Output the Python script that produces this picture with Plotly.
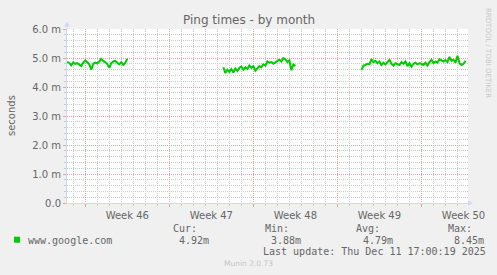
import pandas as pd
import plotly.graph_objects as go

# ---------------- data ----------------
title_text = "Ping times - by month"
y_label = "seconds"
series_name = "www.google.com"
line_color = "#00cc00"

sample_step = "4h"
seg1_start = "2025-11-08 12:00"
seg1_ms = [4.87, 4.83, 4.75, 4.85, 4.80, 4.82, 4.77, 4.72, 4.84, 4.91, 4.86,
           4.78, 4.60, 4.80, 4.84, 4.81, 4.88, 4.97, 4.90, 4.86, 4.80, 4.66,
           4.82, 4.88, 4.90, 4.84, 4.78, 4.86, 4.76, 4.83, 4.98]
seg2_start = "2025-11-21 12:00"
seg2_ms = [4.68, 4.48, 4.60, 4.52, 4.62, 4.50, 4.64, 4.56, 4.66, 4.70, 4.60,
           4.68, 4.62, 4.74, 4.66, 4.72, 4.56, 4.64, 4.72, 4.68, 4.78, 4.74,
           4.88, 4.84, 4.86, 4.80, 4.86, 4.90, 4.94, 4.88, 5.00, 4.96, 4.86,
           4.92, 4.58, 4.78, 4.72]
seg3_start = "2025-12-03 00:00"
seg3_ms = [4.58, 4.74, 4.76, 4.80, 4.78, 4.96, 4.86, 4.90, 4.82, 4.88, 4.76,
           4.84, 4.78, 4.86, 4.94, 4.80, 4.74, 4.82, 4.78, 4.76, 4.86, 4.80,
           4.88, 4.72, 4.82, 4.70, 4.80, 4.84, 4.78, 4.82, 4.80, 4.76, 4.84,
           4.74, 4.86, 4.94, 4.82, 4.88, 4.84, 4.96, 4.92, 4.88, 4.93, 4.86,
           5.04, 4.90, 4.94, 4.84, 5.08, 4.82, 4.76, 4.80, 4.90]

x_range = ["2025-11-08 11:30", "2025-12-11 21:00"]
week_tick0 = "2025-11-10"
y_tick_vals = [0, 1, 2, 3, 4, 5, 6]
y_tick_text = ["0.0", "1.0 m", "2.0 m", "3.0 m", "4.0 m", "5.0 m", "6.0 m"]

stat_labels = ["Cur:", "Min:", "Avg:", "Max:"]
stat_values = ["4.92m", "3.88m", "4.79m", "8.45m"]
last_update = "Last update: Thu Dec 11 17:00:19 2025"
footer = "Munin 2.0.73"
watermark = "RRDTOOL / TOBI OETIKER"

# ---------------- build series ----------------
xs, ys = [], []
for start, vals in [(seg1_start, seg1_ms), (seg2_start, seg2_ms), (seg3_start, seg3_ms)]:
    t = pd.date_range(start=start, periods=len(vals), freq=sample_step)
    xs.extend(list(t))
    ys.extend(vals)
    xs.append(t[-1] + pd.Timedelta(sample_step))
    ys.append(None)

# ---------------- layout helpers ----------------
W, H = 497, 275
L, R, T, B = 67, 468, 29, 203
def px(x):
    return (x - L) / (R - L)
def py(y):
    return (B - y) / (B - T)

FONT = "DejaVu Sans"
MONO = "DejaVu Sans Mono"
TXT = "#666666"
AXIS = "#CFD6F8"
MGRID = "#e3a3a3"
GRID = "#c9c9c9"

fig = go.Figure()
fig.add_trace(go.Scatter(x=xs, y=ys, mode="lines", name=series_name,
                         line=dict(color=line_color, width=2),
                         connectgaps=False, showlegend=False))

fig.update_layout(
    width=W, height=H,
    margin=dict(l=L, r=W - R, t=T, b=H - B),
    paper_bgcolor="#f0f0f0", plot_bgcolor="#ffffff",
    font=dict(family=FONT, size=10, color=TXT),
    showlegend=False,
)

fig.update_xaxes(
    type="date", range=x_range,
    tickmode="linear", tick0=week_tick0, dtick=7 * 86400000,
    ticklabelmode="period", tickformat="Week %V",
    showgrid=True, gridcolor=MGRID, griddash="1px,1px", gridwidth=1,
    ticks="outside", ticklen=3, tickcolor=MGRID,
    showline=True, linecolor=AXIS, linewidth=1,
    zeroline=False,
    tickfont=dict(family=FONT, size=10, color=TXT),
    minor=dict(tickmode="linear", tick0=week_tick0, dtick=86400000,
               showgrid=True, gridcolor=GRID, griddash="1px,1px", gridwidth=1,
               ticks="outside", ticklen=2, tickcolor=GRID),
)
fig.update_yaxes(
    range=[0, 6],
    tickmode="array", tickvals=y_tick_vals, ticktext=y_tick_text,
    showgrid=True, gridcolor=MGRID, griddash="1px,1px", gridwidth=1,
    ticks="outside", ticklen=3, tickcolor=MGRID,
    showline=True, linecolor=AXIS, linewidth=1,
    zeroline=False,
    tickfont=dict(family=FONT, size=10, color=TXT),
    minor=dict(tickmode="linear", tick0=0, dtick=0.2,
               showgrid=True, gridcolor=GRID, griddash="1px,1px", gridwidth=1,
               ticks="outside", ticklen=2, tickcolor=GRID),
)

# axis arrows
shapes = [
    dict(type="line", xref="paper", yref="paper", x0=px(67), x1=px(67), y0=py(29), y1=py(26),
         line=dict(color=AXIS, width=1)),
    dict(type="path", xref="paper", yref="paper",
         path=f"M {px(64.3)},{py(26.5)} L {px(69.7)},{py(26.5)} L {px(67)},{py(21.5)} Z",
         fillcolor=AXIS, line=dict(color=AXIS, width=0)),
    dict(type="path", xref="paper", yref="paper",
         path=f"M {px(468)},{py(200.5)} L {px(468)},{py(205.5)} L {px(473)},{py(203)} Z",
         fillcolor=AXIS, line=dict(color=AXIS, width=0)),
    # legend swatch
    dict(type="rect", xref="paper", yref="paper", x0=px(14), x1=px(20), y0=py(242.7), y1=py(236.7),
         fillcolor=line_color, line=dict(width=0)),
]
fig.update_layout(shapes=shapes)

ann = []
def text(x, y, s, font=FONT, size=10, color=TXT, xanchor="left", angle=0):
    ann.append(dict(x=px(x), y=py(y), xref="paper", yref="paper", text=s,
                    showarrow=False, xanchor=xanchor, yanchor="middle",
                    textangle=angle, borderpad=0,
                    font=dict(family=font, size=size, color=color)))

text(248.5, 19.5, title_text, size=12, xanchor="center")
text(11, 116, y_label, size=10, xanchor="center", angle=-90)
text(488, 53, watermark, size=7, color="#c8c8c8", xanchor="center", angle=90)

text(26.5, 240, series_name, font=MONO)
label_x = [172, 264, 355, 447]
value_x = [178, 270, 361.5, 453]
for lx, vx, lab, val in zip(label_x, value_x, stat_labels, stat_values):
    text(lx, 228, lab, font=MONO)
    text(vx, 240, val, font=MONO)
text(261.5, 251.5, last_update, font=MONO)
text(248, 263.5, footer, size=7.5, color="#c4c4c4", xanchor="center")

fig.update_layout(annotations=ann)
fig.write_html("out.html")
